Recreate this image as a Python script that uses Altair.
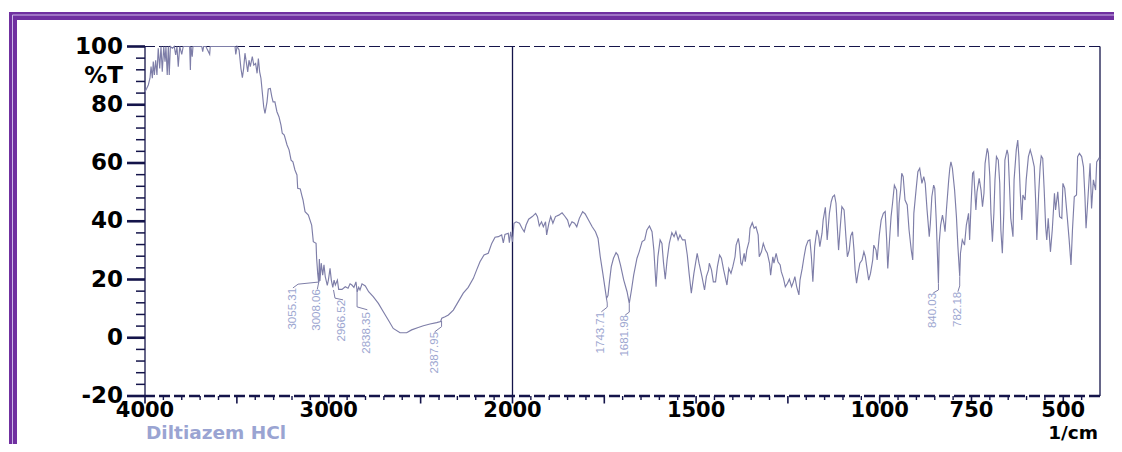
import altair as alt
import pandas as pd

# ---------------- spectrum (wavenumber 1/cm, %T) ----------------
WN = [4000, 3991, 3982, 3973, 3967, 3960, 3955, 3949, 3942, 3935, 3928, 3920, 3913, 3906, 3898,
      3891, 3886, 3879, 3873, 3868, 3862, 3851, 3841, 3833, 3826, 3819, 3811, 3800, 3792, 3757,
      3753, 3750, 3743, 3739, 3691, 3686, 3681, 3668, 3664, 3648, 3645, 3510, 3506, 3499, 3488,
      3478, 3470, 3463, 3456, 3449, 3441, 3434, 3427, 3416, 3408, 3398, 3390, 3383, 3376, 3369,
      3362, 3354, 3347, 3336, 3329, 3318, 3310, 3303, 3293, 3282, 3271, 3260, 3253, 3242, 3227,
      3216, 3205, 3195, 3184, 3173, 3169, 3155, 3147, 3140, 3129, 3111, 3093, 3084, 3069, 3066,
      3060, 3055, 3051, 3048, 3041, 3033, 3026, 3019, 3008, 3002, 2993, 2986, 2978, 2971, 2964,
      2953, 2946, 2928, 2910, 2895, 2884, 2874, 2863, 2852, 2845, 2837, 2830, 2819, 2801, 2783,
      2758, 2730, 2703, 2676, 2649, 2612, 2576, 2549, 2513, 2485, 2449, 2413, 2391, 2385, 2367,
      2349, 2322, 2295, 2268, 2241, 2213, 2195, 2177, 2155, 2132, 2113, 2095, 2077, 2059, 2050,
      2041, 2023, 2017, 2010, 2000,
      1996, 1990, 1981, 1974, 1968, 1963, 1956, 1946, 1937, 1932, 1927, 1921, 1916, 1910, 1907,
      1901, 1896, 1890, 1883, 1874, 1865, 1858, 1850, 1845, 1838, 1831, 1825, 1818, 1809, 1802,
      1793, 1783, 1774, 1767, 1761, 1754, 1744, 1740, 1736, 1731, 1725, 1718, 1713, 1706, 1697,
      1688, 1682, 1676, 1670, 1661, 1655, 1647, 1640, 1634, 1627, 1620, 1615, 1609, 1604, 1598,
      1593, 1589, 1584, 1579, 1573, 1566, 1560, 1555, 1549, 1544, 1537, 1530, 1524, 1519, 1513,
      1506, 1497, 1492, 1484, 1477, 1472, 1466, 1464, 1458, 1453, 1447, 1442, 1436, 1431, 1425,
      1420, 1416, 1411, 1405, 1400, 1394, 1391, 1385, 1382, 1378, 1375, 1369, 1366, 1362, 1356,
      1353, 1347, 1342, 1337, 1331, 1328, 1322, 1317, 1311, 1306, 1300, 1297, 1291, 1288, 1282,
      1277, 1271, 1268, 1262, 1257, 1251, 1246, 1240, 1235, 1231, 1226, 1220, 1217, 1211, 1206,
      1201, 1195, 1190, 1186, 1182, 1177, 1171, 1166, 1163, 1157, 1154, 1148, 1143, 1137, 1132,
      1128, 1123, 1119, 1116, 1112, 1108, 1103, 1097, 1095, 1092, 1088, 1083, 1079, 1074, 1070,
      1067, 1063, 1059, 1054, 1048, 1043, 1039, 1036, 1030, 1025, 1019, 1016, 1010, 1007, 1001,
      996, 990, 985, 981, 978, 972, 969, 965, 960, 954, 950, 947, 943, 940, 936,
      931, 925, 920, 914, 910, 907, 901, 896, 891, 885, 880, 876, 871, 865, 862,
      858, 853, 850, 846, 840, 838, 834, 829, 825, 822, 818, 812, 809, 806, 802,
      796, 791, 787, 782, 780, 775, 769, 764, 758, 755, 751, 747, 744, 738, 735,
      729, 724, 720, 716, 713, 707, 704, 700, 697, 693, 689, 686, 682, 677, 673,
      670, 666, 662, 659, 653, 650, 646, 643, 637, 634, 628, 624, 621, 617, 613,
      610, 604, 601, 595, 590, 585, 579, 575, 572, 567, 563, 560, 556, 552, 548,
      545, 541, 535, 530, 524, 521, 515, 510, 504, 501, 496, 490, 484, 479, 475,
      470, 464, 461, 456, 450, 445, 441, 438, 432, 427, 423, 418, 412, 409, 403,
      400]

T = [84.5, 85.6, 86.8, 89.1, 93.1, 89.1, 94.8, 90.2, 95.3, 90.2, 99.4, 92.5, 100, 91.3, 100,
     94.8, 100, 90.2, 100, 90.2, 100, 99.4, 100, 97.1, 100, 93.1, 100, 97.3, 100, 100,
     91.9, 100, 96.5, 100, 100, 98.2, 100, 100, 99.4, 97.3, 100, 100, 97.3, 100, 98.8,
     92.5, 89.3, 92.5, 97.7, 94.8, 91.3, 95.3, 93.1, 96.5, 93.6, 94.2, 90.8, 95.9, 91.3, 89.1,
     84.5, 79.3, 77.0, 81.0, 85.4, 85.6, 82.8, 81.0, 81.0, 77.6, 75.9, 73.0, 70.2, 69.6, 66.2,
     64.5, 61.0, 60.4, 57.6, 55.9, 51.3, 51.1, 49.0, 47.3, 43.3, 42.1, 38.7, 33.0, 32.4, 27.3,
     22.0, 19.0, 27.0, 19.5, 25.6, 21.5, 25.0, 21.0, 18.0, 19.8, 23.8, 19.8, 17.3, 19.8, 18.1,
     19.8, 16.6, 16.6, 17.5, 17.0, 18.5, 18.1, 17.3, 19.2, 15.8, 17.3, 16.4, 18.5, 17.8, 15.8,
     14.1, 11.8, 8.9, 6.1, 3.2, 1.7, 1.7, 2.7, 3.5, 4.1, 4.7, 5.2, 5.6, 6.7, 7.2,
     7.8, 9.5, 12.4, 15.3, 17.3, 20.4, 23.3, 26.1, 28.4, 29.0, 32.4, 34.5, 34.7, 35.3, 32.6,
     35.5, 35.9, 32.6, 36.4, 33.0,
     39.3, 39.8, 39.3, 37.6, 36.4, 38.7, 40.7, 41.6, 42.7, 41.6, 38.4, 39.8, 38.1, 39.8, 35.3,
     39.3, 41.6, 39.3, 41.6, 42.1, 42.9, 41.8, 40.4, 38.1, 39.8, 39.3, 38.1, 41.0, 43.3, 42.5,
     40.4, 38.1, 36.4, 34.1, 27.8, 22.1, 13.5, 14.5, 19.2, 24.4, 27.3, 29.2, 28.4, 25.0, 19.8,
     15.8, 11.8, 16.4, 21.5, 27.3, 29.5, 33.0, 33.6, 37.0, 38.4, 36.4, 30.1, 17.5, 27.8, 33.6,
     32.4, 26.1, 20.1, 26.7, 32.4, 36.1, 34.7, 36.4, 33.6, 35.3, 33.6, 33.6, 28.4, 22.1, 15.3,
     22.1, 29.0, 25.6, 21.0, 16.4, 21.0, 23.3, 25.6, 23.3, 19.2, 19.2, 24.4, 28.4, 27.3, 23.3,
     20.4, 18.1, 23.8, 22.1, 24.4, 27.8, 31.8, 34.1, 31.8, 25.6, 25.0, 29.0, 26.1, 30.1, 33.0,
     37.6, 39.5, 37.6, 38.1, 35.3, 27.8, 29.5, 32.4, 30.1, 29.0, 25.6, 21.5, 27.8, 25.6, 29.0,
     26.1, 25.0, 22.7, 20.4, 17.5, 18.7, 20.1, 17.5, 19.2, 21.0, 17.5, 14.7, 19.8, 23.8, 27.8,
     31.3, 33.3, 33.6, 27.8, 19.2, 31.3, 37.0, 34.7, 31.3, 35.9, 40.4, 44.8, 33.6, 42.7, 46.7,
     48.4, 49.0, 46.2, 39.3, 30.1, 37.0, 45.0, 43.9, 40.4, 34.7, 27.8, 30.1, 34.9, 36.4, 30.1,
     23.3, 18.7, 22.1, 25.6, 26.7, 29.5, 27.8, 25.0, 19.8, 22.1, 26.7, 31.8, 30.1, 26.7, 35.3,
     40.4, 42.7, 43.3, 33.6, 23.8, 35.9, 41.6, 46.2, 52.4, 50.7, 34.7, 46.2, 50.7, 56.5, 55.3,
     47.3, 45.6, 37.0, 30.1, 26.7, 42.7, 50.7, 57.0, 58.2, 53.0, 55.3, 53.0, 43.9, 34.7, 39.3,
     48.4, 52.4, 51.3, 40.4, 18.7, 32.4, 38.7, 42.1, 39.3, 36.4, 44.4, 54.2, 58.2, 60.4, 58.2,
     50.7, 41.6, 31.3, 21.0, 29.0, 33.6, 31.8, 38.7, 42.7, 33.6, 46.2, 56.5, 57.0, 43.9, 50.1,
     54.7, 50.7, 45.0, 49.6, 59.9, 65.0, 63.3, 55.3, 42.7, 33.0, 42.7, 54.2, 62.2, 61.0, 53.0,
     37.0, 29.0, 42.7, 61.0, 64.5, 62.7, 50.7, 41.0, 34.7, 54.2, 64.5, 67.9, 62.2, 49.6, 40.4,
     49.0, 47.3, 54.2, 62.2, 64.5, 62.2, 58.7, 46.2, 33.6, 49.6, 58.7, 62.4, 61.6, 50.7, 38.1,
     33.6, 41.0, 29.5, 37.0, 49.6, 43.9, 50.1, 41.6, 41.0, 53.0, 51.3, 42.7, 33.6, 25.0, 37.0,
     48.4, 49.0, 62.2, 63.3, 62.2, 58.7, 48.4, 37.6, 49.6, 59.9, 44.4, 54.2, 50.7, 60.4, 61.6,
     61.0]

# ---------------- peak annotations ----------------
PEAK_TEXT = ["3055.31", "3008.06", "2966.52", "2838.35", "2387.95",
             "1743.71", "1681.98", "840.03", "782.18"]
PEAK_LABEL_WN = [3195, 3062, 2928, 2792, 2424, 1758, 1693, 854, 787]
PEAK_LABEL_T = [17.1, 16.7, 13.0, 8.8, 2.0, 8.9, 7.8, 15.4, 15.8]

LEADER_ID = [1, 1, 1, 2, 2, 3, 3, 3, 4, 4, 4, 5, 5, 5, 6, 6, 6, 6, 7, 7, 7, 8, 8, 8, 9, 9, 9]
LEADER_WN = [3058, 3167, 3195, 3053, 3062, 2974, 2966, 2922, 2846, 2846, 2790,
             2386, 2386, 2424, 1744, 1742, 1742, 1758, 1682, 1682, 1693, 840, 840, 854,
             782, 782, 787]
LEADER_T = [19.1, 18.4, 17.1, 19.5, 16.7, 16.4, 13.6, 13.0, 16.3, 10.6, 9.6,
            5.8, 3.8, 2.0, 13.5, 11.9, 10.5, 8.9, 11.8, 8.8, 7.8, 18.7, 16.4, 15.4,
            21.0, 17.8, 15.8]

# ---------------- axis furniture ----------------
X_TICK_LABELS = [4000, 3000, 2000, 1500, 1000, 750, 500]
Y_TICK_LABELS = [100, 80, 60, 40, 20, 0, -20]
Y_UNIT_LABEL = "%T"
Y_UNIT_AT = 90
X_MAJOR_TICKS = [4000, 3500, 3000, 2500, 2000, 1750, 1500, 1250, 1000, 750, 500]
X_MINOR_TICKS = [3900, 3800, 3700, 3600, 3400, 3300, 3200, 3100, 2900, 2800, 2700, 2600,
                 2400, 2300, 2200, 2100, 1950, 1900, 1850, 1800, 1700, 1650, 1600, 1550,
                 1450, 1400, 1350, 1300, 1200, 1150, 1100, 1050, 950, 900, 850, 800,
                 700, 650, 600, 550, 450]
Y_MAJOR_TICKS = [100, 80, 60, 40, 20, 0, -20]
Y_MINOR_TICKS = [96, 92, 88, 84, 76, 72, 68, 64, 56, 52, 48, 44, 36, 32, 28, 24,
                 16, 12, 8, 4, -4, -8, -12, -16]
SAMPLE_NAME = "Diltiazem HCl"
X_UNIT = "1/cm"

# ---------------- styling ----------------
W, H = 955, 349.5
LINE = "#7E7EA8"
AX = "#14144A"
PEAKC = "#9CA6D0"
PURPLE = "#7030A0"
LAV = "#CDB8E8"
FONT = "DejaVu Sans"

xs = alt.Scale(domain=[4000, 2000, 400], range=[0, 367.5, W], nice=False, zero=False)
ys = alt.Scale(domain=[-20, 100], nice=False, zero=False)

spec_df = pd.DataFrame({"wn": WN, "t": T})
lead_df = pd.DataFrame({"id": LEADER_ID, "wn": LEADER_WN, "t": LEADER_T,
                        "k": list(range(len(LEADER_ID)))})
peak_df = pd.DataFrame({"wn": PEAK_LABEL_WN, "t": PEAK_LABEL_T, "s": PEAK_TEXT})
xlab_df = pd.DataFrame({"wn": X_TICK_LABELS, "s": [str(v) for v in X_TICK_LABELS]})
ylab_df = pd.DataFrame({"t": Y_TICK_LABELS + [Y_UNIT_AT],
                        "s": [str(v) for v in Y_TICK_LABELS] + [Y_UNIT_LABEL]})

X = lambda f="wn": alt.X(f"{f}:Q", scale=xs, axis=None)
Y = lambda f="t": alt.Y(f"{f}:Q", scale=ys, axis=None)

spectrum = alt.Chart(spec_df).mark_line(color=LINE, strokeWidth=1.15).encode(x=X(), y=Y())

leaders = alt.Chart(lead_df).mark_line(color=LINE, strokeWidth=1).encode(
    x=X(), y=Y(), detail="id:N", order="k:Q")

peaks = alt.Chart(peak_df).mark_text(
    font="Liberation Sans", fontSize=11.5, color=PEAKC, angle=270,
    align="right", baseline="middle").encode(x=X(), y=Y(), text="s:N")

top_line = alt.Chart(pd.DataFrame({"t": [100]})).mark_rule(
    color=AX, strokeWidth=1.2, strokeDash=[11, 4]).encode(y=Y())
bottom_line = alt.Chart(pd.DataFrame({"t": [-20]})).mark_rule(
    color=AX, strokeWidth=2.5, strokeDash=[11, 4]).encode(y=Y())
vlines = alt.Chart(pd.DataFrame({"wn": [4000, 2000, 400]})).mark_rule(
    color=AX, strokeWidth=1.3).encode(x=X())

x_major = alt.Chart(pd.DataFrame({"wn": X_MAJOR_TICKS})).mark_rule(
    color=AX, strokeWidth=1.6).encode(x=X(), y=alt.value(H), y2=alt.value(H + 7.5))
x_minor = alt.Chart(pd.DataFrame({"wn": X_MINOR_TICKS})).mark_rule(
    color=AX, strokeWidth=1.4).encode(x=X(), y=alt.value(H), y2=alt.value(H + 4))
y_major = alt.Chart(pd.DataFrame({"t": Y_MAJOR_TICKS})).mark_rule(
    color=AX, strokeWidth=2.6).encode(y=Y(), x=alt.value(-18), x2=alt.value(0))
y_minor = alt.Chart(pd.DataFrame({"t": Y_MINOR_TICKS})).mark_rule(
    color=AX, strokeWidth=1.5).encode(y=Y(), x=alt.value(-9), x2=alt.value(0))

x_labels = alt.Chart(xlab_df).mark_text(
    font=FONT, fontSize=21, fontWeight="bold", color="#000000",
    align="center", baseline="alphabetic").encode(x=X(), y=alt.value(H + 20.5), text="s:N")
y_labels = alt.Chart(ylab_df).mark_text(
    font=FONT, fontSize=23, fontWeight="bold", color="#000000",
    align="right", baseline="middle").encode(y=Y(), x=alt.value(-22), text="s:N")

name_txt = alt.Chart(pd.DataFrame({"s": [SAMPLE_NAME]})).mark_text(
    font=FONT, fontSize=18.5, fontWeight="bold", color="#9AA4D2",
    align="left", baseline="alphabetic").encode(
    x=alt.value(1), y=alt.value(392.8), text="s:N")
unit_txt = alt.Chart(pd.DataFrame({"s": [X_UNIT]})).mark_text(
    font=FONT, fontSize=18.5, fontWeight="bold", color="#000000",
    align="right", baseline="alphabetic").encode(
    x=alt.value(953), y=alt.value(392.8), text="s:N")

one = pd.DataFrame({"a": [0]})
frame_top = alt.Chart(one).mark_rule(color=PURPLE, strokeWidth=8).encode(
    x=alt.value(-136), x2=alt.value(969), y=alt.value(-30.5))
frame_left = alt.Chart(one).mark_rule(color=PURPLE, strokeWidth=8).encode(
    x=alt.value(-132), y=alt.value(-34.5), y2=alt.value(398))
frame_top_in = alt.Chart(one).mark_rule(color=LAV, strokeWidth=1).encode(
    x=alt.value(-132.5), x2=alt.value(969), y=alt.value(-31.5))
frame_left_in = alt.Chart(one).mark_rule(color=LAV, strokeWidth=1).encode(
    x=alt.value(-132.5), y=alt.value(-31.5), y2=alt.value(398))

chart = alt.layer(
    frame_top, frame_left, frame_top_in, frame_left_in,
    top_line, vlines, x_minor, x_major, y_minor, y_major, bottom_line,
    spectrum, leaders, peaks, x_labels, y_labels, name_txt, unit_txt
).properties(
    width=W, height=H,
    padding={"left": 137, "top": 38.5, "right": 14, "bottom": 48},
    autosize=alt.AutoSizeParams(type="none"),
).configure_view(stroke=None)

chart.save("out.html", embed_options={"renderer": "svg", "actions": False})
